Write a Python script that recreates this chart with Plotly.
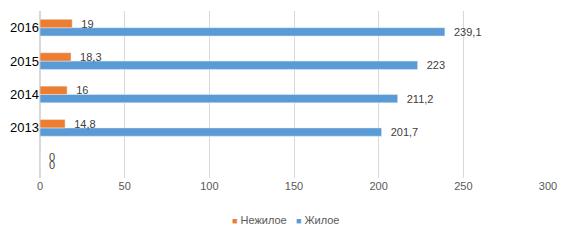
import plotly.graph_objects as go

categories = [" ", "2013", "2014", "2015", "2016"]
nezhiloe = [0, 14.8, 16, 18.3, 19]
zhiloe = [0, 201.7, 211.2, 223, 239.1]
x_ticks = [0, 50, 100, 150, 200, 250, 300]
series_names = ["Нежилое", "Жилое"]
series_colors = ["#ED7D31", "#5B9BD5"]

def fmt(v):
    s = ("%g" % v).replace(".", ",")
    return "\u00a0\u00a0" + s

lbl_font = dict(color="#404040", size=11, family="Liberation Sans")

fig = go.Figure()
fig.add_trace(go.Bar(
    y=categories, x=zhiloe, orientation="h", name=series_names[1],
    marker=dict(color=series_colors[1]),
    text=[fmt(v) for v in zhiloe], textposition="outside",
    textfont=lbl_font, outsidetextfont=lbl_font, insidetextfont=lbl_font,
    constraintext="none", cliponaxis=False, showlegend=False,
))
fig.add_trace(go.Bar(
    y=categories, x=nezhiloe, orientation="h", name=series_names[0],
    marker=dict(color=series_colors[0]),
    text=[fmt(v) for v in nezhiloe], textposition="outside",
    textfont=lbl_font, outsidetextfont=lbl_font, insidetextfont=lbl_font,
    constraintext="none", cliponaxis=False, showlegend=False,
))

legend_text = "&nbsp;&nbsp;&nbsp;".join(
    f"<span style='color:{c};font-size:9px'>■</span> {n}"
    for n, c in zip(series_names, series_colors)
)

fig.update_layout(
    width=584, height=243,
    margin=dict(l=40, r=36, t=11, b=65),
    paper_bgcolor="white", plot_bgcolor="white",
    barmode="group", bargap=0.5, bargroupgap=0,
    font=dict(family="Liberation Sans", size=11, color="#595959"),
    xaxis=dict(range=[0, 300], tickvals=x_ticks, showgrid=True,
               gridcolor="#D9D9D9", gridwidth=1, zeroline=True,
               zerolinecolor="#D9D9D9", showline=False, ticks="",
               tickfont=dict(size=11, color="#595959")),
    yaxis=dict(type="category", categoryorder="array", categoryarray=categories,
               showgrid=False, zeroline=False, showline=False, ticks="",
               tickfont=dict(size=13, color="#000000")),
    annotations=[dict(text=legend_text, xref="paper", yref="paper",
                      x=0.483, y=-0.25, xanchor="center", yanchor="middle",
                      showarrow=False,
                      font=dict(size=11, color="#595959"))],
    showlegend=False,
)

fig.write_html("out.html")
